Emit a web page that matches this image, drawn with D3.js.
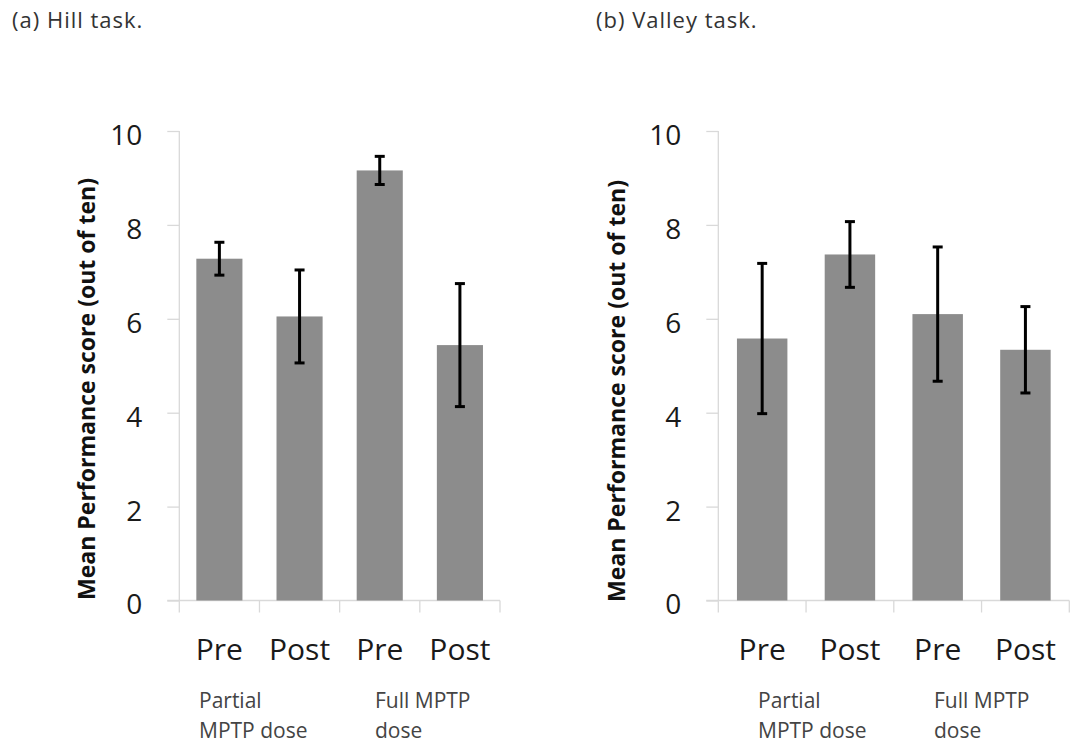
<!DOCTYPE html>
<html>
<head>
<meta charset="utf-8">
<script src="https://cdn.jsdelivr.net/npm/d3@7/dist/d3.min.js"></script>
<style>
  html, body { margin: 0; padding: 0; background: #fff; }
  svg { display: block; font-family: "Open Sans", "Noto Sans", sans-serif; }
</style>
</head>
<body>
<svg id="chart" width="1074" height="745"></svg>
<script>
// Bar categories and group captions
const categories = ["Pre", "Post", "Pre", "Post"];
const categoryKeys = ["partial-pre", "partial-post", "full-pre", "full-post"];
const groupLabels = [["Partial", "MPTP dose"], ["Full MPTP", "dose"]];
const yTicks = [0, 2, 4, 6, 8, 10];
const yAxisTitle = "Mean Performance score (out of ten)";

// Hill task: mean score and error per bar
const hillMeans = [7.28, 6.05, 9.16, 5.44];
const hillErrors = [0.35, 0.99, 0.30, 1.31];

// Valley task: mean score and error per bar
const valleyMeans = [5.58, 7.37, 6.10, 5.34];
const valleyErrors = [1.60, 0.70, 1.43, 0.92];

const panelTitles = ["(a) Hill task.", "(b) Valley task."];

const svg = d3.select("#chart");

const panels = [
  { title: panelTitles[0], means: hillMeans, errors: hillErrors,
    x0: 179.3, x1: 500, titleX: 12, yTitleX: 95, yTitleY: 389, groupX: [199, 375] },
  { title: panelTitles[1], means: valleyMeans, errors: valleyErrors,
    x0: 718.3, x1: 1069.3, titleX: 596, yTitleX: 625, yTitleY: 391, groupX: [758, 934] }
];

const yTop = 131, yBottom = 600.5;
const axisColor = "#d9d9d9";
const barColor = "#8c8c8c";

panels.forEach(p => {
  const g = svg.append("g");

  const y = d3.scaleLinear().domain([0, 10]).range([yBottom, yTop]);
  const slot = d3.scaleBand().domain(categoryKeys).range([p.x0, p.x1]).padding(0);
  const x = d3.scaleBand().domain(categoryKeys).range([p.x0, p.x1])
    .paddingInner(0.425).paddingOuter(0.2125);

  // panel title
  g.append("text")
    .attr("x", p.titleX).attr("y", 28)
    .attr("font-size", 22).attr("letter-spacing", 1)
    .attr("fill", "#333")
    .text(p.title);

  // y axis
  const yAxis = g.append("g")
    .attr("transform", `translate(${p.x0},0)`)
    .call(d3.axisLeft(y).tickValues(yTicks).tickSize(12).tickPadding(25));
  yAxis.select(".domain").attr("stroke", axisColor).attr("stroke-width", 1.3)
    .attr("d", `M0,${yTop}V${yBottom}`);
  yAxis.selectAll(".tick line").attr("stroke", axisColor).attr("stroke-width", 1.3);
  yAxis.selectAll(".tick text")
    .attr("font-size", 28).attr("fill", "#1a1a1a").attr("dy", "0.48em")
    .attr("font-family", "'Open Sans', sans-serif");

  // x axis: baseline plus ticks at slot boundaries
  const xAxis = g.append("g").attr("transform", `translate(0,${yBottom})`)
    .call(d3.axisBottom(slot).tickSize(0).tickFormat(""));
  xAxis.select(".domain").attr("stroke", axisColor).attr("stroke-width", 1.3)
    .attr("d", `M${p.x0 - 12},0H${p.x1}`);
  xAxis.selectAll(".tick").remove();
  const bounds = categoryKeys.map(k => slot(k)).concat([p.x1]);
  xAxis.selectAll("line.bound").data(bounds).join("line")
    .attr("class", "bound")
    .attr("x1", d => d).attr("x2", d => d)
    .attr("y1", 0).attr("y2", 12)
    .attr("stroke", axisColor).attr("stroke-width", 1.3);

  // category labels
  g.selectAll("text.cat").data(categoryKeys).join("text")
    .attr("class", "cat")
    .attr("x", (k) => slot(k) + slot.bandwidth() / 2)
    .attr("y", 660)
    .attr("text-anchor", "middle")
    .attr("font-size", 30).attr("fill", "#1a1a1a")
    .text((k, i) => categories[i]);

  // group captions
  groupLabels.forEach((lines, gi) => {
    lines.forEach((line, li) => {
      g.append("text")
        .attr("x", p.groupX[gi]).attr("y", 708 + li * 30)
        .attr("font-size", 21).attr("fill", "#444")
        .text(line);
    });
  });

  // y axis title
  g.append("text")
    .attr("transform", `translate(${p.yTitleX},${p.yTitleY}) rotate(-90)`)
    .attr("text-anchor", "middle")
    .attr("font-size", 23).attr("font-weight", "bold").attr("fill", "#111")
    .attr("textLength", 422).attr("lengthAdjust", "spacingAndGlyphs")
    .text(yAxisTitle);

  // bars
  g.selectAll("rect.bar").data(p.means).join("rect")
    .attr("class", "bar")
    .attr("x", (d, i) => x(categoryKeys[i]))
    .attr("width", x.bandwidth())
    .attr("y", d => y(d))
    .attr("height", d => y(0) - y(d))
    .attr("fill", barColor);

  // error bars
  const eb = g.selectAll("g.err").data(p.means).join("g").attr("class", "err")
    .attr("transform", (d, i) => `translate(${x(categoryKeys[i]) + x.bandwidth() / 2},0)`);
  eb.append("line")
    .attr("y1", (d, i) => y(d + p.errors[i]))
    .attr("y2", (d, i) => y(d - p.errors[i]))
    .attr("stroke", "#000").attr("stroke-width", 3);
  [1, -1].forEach(s => {
    eb.append("line")
      .attr("x1", -5).attr("x2", 5)
      .attr("y1", (d, i) => y(d + s * p.errors[i]))
      .attr("y2", (d, i) => y(d + s * p.errors[i]))
      .attr("stroke", "#000").attr("stroke-width", 3);
  });
});
</script>
</body>
</html>
